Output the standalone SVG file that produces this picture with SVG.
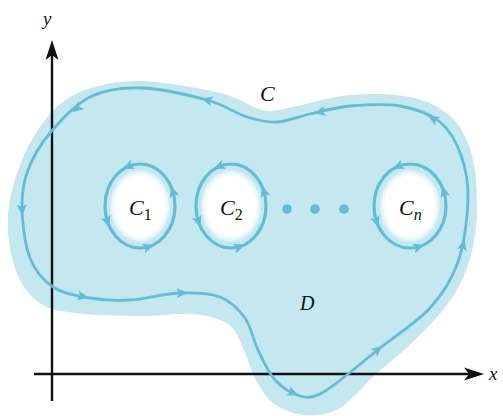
<svg xmlns="http://www.w3.org/2000/svg" xmlns:xlink="http://www.w3.org/1999/xlink" width="503" height="416" viewBox="0 0 503 416">
<style>
.curve{fill:none;stroke:#62bdd6;stroke-width:2.8;stroke-linejoin:round}
.ring{fill:none;stroke:#62bdd6;stroke-width:3.2}
.ah{fill:#62bdd6}
.dot{fill:#62bdd6}
.axis{stroke:#111;stroke-width:2.4;fill:none}
.lbl{font-family:"Liberation Serif","Times New Roman",serif;font-style:italic;font-size:22px;fill:#111}
.sub{font-style:normal;font-size:16px}
.subi{font-style:italic;font-size:16px}
</style>
<defs>
<path id="ah" d="M6,0 L-5.5,-5 L-2.8,0 L-5.5,5 Z"/>
<path id="axh" d="M0,0 L-20,-6.5 L-15,0 L-20,6.5 Z"/>
<radialGradient id="hole" cx="0.5" cy="0.5" r="0.5">
<stop offset="0" stop-color="#ffffff"/>
<stop offset="0.8" stop-color="#ffffff"/>
<stop offset="0.92" stop-color="#e3f4f9"/>
<stop offset="1" stop-color="#c4e7f0"/>
</radialGradient>
</defs>

<g id="region-D">
<path fill="#c4e7f0" d="M8,215 C6.8,233 10,253.5 15,268 C20,282.5 28,294.5 38,302 C48,309.5 58,310.7 75,313 C92,315.3 120.5,315.8 140,316 C159.5,316.2 177.3,312.7 192,314 C206.7,315.3 219.5,318.3 228,324 C236.5,329.7 238.5,339 243,348 C247.5,357 250,368.8 255,378 C260,387.2 264.7,396.8 273,403 C281.3,409.2 293.8,414.2 305,415 C316.2,415.8 328.3,414.7 340,408 C351.7,401.3 362.5,386.3 375,375 C387.5,363.7 402.2,352.8 415,340 C427.8,327.2 442.7,312.2 452,298 C461.3,283.8 466.8,270.5 471,255 C475.2,239.5 477,222.2 477,205 C477,187.8 475.5,166.8 471,152 C466.5,137.2 460.2,125.2 450,116 C439.8,106.8 426.7,100.5 410,97 C393.3,93.5 370.3,93.2 350,95 C329.7,96.8 302.7,105.5 288,108 C273.3,110.5 273.3,112.5 262,110 C250.7,107.5 240.2,97.8 220,93 C199.8,88.2 163.5,81.5 141,81 C118.5,80.5 100.2,84.5 85,90 C69.8,95.5 60.5,102.3 50,114 C39.5,125.7 29,143.2 22,160 C15,176.8 9.2,197 8,215 Z"/>
<ellipse cx="140" cy="206" rx="31" ry="37" fill="url(#hole)"/>
<ellipse cx="231" cy="206" rx="31" ry="37" fill="url(#hole)"/>
<ellipse cx="410" cy="206" rx="31" ry="37" fill="url(#hole)"/>
</g>

<g id="axes">
<line class="axis" x1="52" y1="401" x2="52" y2="50"/>
<use xlink:href="#axh" href="#axh" transform="translate(52,40) rotate(-90)" fill="#111"/>
<line class="axis" x1="34" y1="374" x2="474" y2="374"/>
<use xlink:href="#axh" href="#axh" transform="translate(484,374)" fill="#111"/>
<text class="lbl" x="43" y="25" style="font-size:19px">y</text>
<text class="lbl" x="489" y="380" style="font-size:19px">x</text>
</g>

<g id="connectors">
<g id="curve-C">
<path class="curve" d="M22,208 C22.3,222.7 24.8,244.8 30,258 C35.2,271.2 43,280.3 53,287 C63,293.7 77.2,295.8 90,298 C102.8,300.2 115,300.8 130,300 C145,299.2 165,293.5 180,293 C195,292.5 209.2,292.8 220,297 C230.8,301.2 238.7,309.2 245,318 C251.3,326.8 253,339.7 258,350 C263,360.3 268,372.3 275,380 C282,387.7 292.5,393.7 300,396 C307.5,398.3 312,397.7 320,394 C328,390.3 338,381.7 348,374 C358,366.3 366.3,359 380,348 C393.7,337 417,322.3 430,308 C443,293.7 451.7,280 458,262 C464.3,244 467.5,217.8 468,200 C468.5,182.2 465.7,168 461,155 C456.3,142 450.2,130.2 440,122 C429.8,113.8 415,108.7 400,106 C385,103.3 365,104.7 350,106 C335,107.3 322.2,111.3 310,114 C297.8,116.7 287.5,121.5 277,122 C266.5,122.5 258.7,120.7 247,117 C235.3,113.3 224.7,104.8 207,100 C189.3,95.2 160.5,88.5 141,88 C121.5,87.5 105.2,89.5 90,97 C74.8,104.5 60.3,120.8 50,133 C39.7,145.2 32.7,157.5 28,170 C23.3,182.5 21.7,193.3 22,208 Z"/>
<use class="ah" href="#ah" xlink:href="#ah" transform="translate(77,108.5) rotate(142)"/>
<use class="ah" href="#ah" xlink:href="#ah" transform="translate(22,210) rotate(88)"/>
<use class="ah" href="#ah" xlink:href="#ah" transform="translate(83,296.5) rotate(12)"/>
<use class="ah" href="#ah" xlink:href="#ah" transform="translate(182,293) rotate(0)"/>
<use class="ah" href="#ah" xlink:href="#ah" transform="translate(293,393) rotate(22)"/>
<use class="ah" href="#ah" xlink:href="#ah" transform="translate(378,349.5) rotate(-39)"/>
<use class="ah" href="#ah" xlink:href="#ah" transform="translate(463,245) rotate(-76)"/>
<use class="ah" href="#ah" xlink:href="#ah" transform="translate(433,118.5) rotate(-150)"/>
<use class="ah" href="#ah" xlink:href="#ah" transform="translate(320,112) rotate(168)"/>
<use class="ah" href="#ah" xlink:href="#ah" transform="translate(207,100) rotate(-165)"/>
</g>
<g id="curve-C1" transform="translate(140,206)">
<ellipse class="ring" cx="0" cy="0" rx="35" ry="42"/>
<use class="ah" href="#ah" xlink:href="#ah" transform="translate(-12,-39.5) rotate(156)"/>
<use class="ah" href="#ah" xlink:href="#ah" transform="translate(32.9,-14.4) rotate(-107)"/>
<use class="ah" href="#ah" xlink:href="#ah" transform="translate(-32.5,15.7) rotate(71)"/>
<use class="ah" href="#ah" xlink:href="#ah" transform="translate(8.5,40.8) rotate(-17)"/>
</g>
<g id="curve-C2" transform="translate(231,206)">
<ellipse class="ring" cx="0" cy="0" rx="35" ry="42"/>
<use class="ah" href="#ah" xlink:href="#ah" transform="translate(-12,-39.5) rotate(156)"/>
<use class="ah" href="#ah" xlink:href="#ah" transform="translate(32.9,-14.4) rotate(-107)"/>
<use class="ah" href="#ah" xlink:href="#ah" transform="translate(-32.5,15.7) rotate(71)"/>
<use class="ah" href="#ah" xlink:href="#ah" transform="translate(8.5,40.8) rotate(-17)"/>
</g>
<g id="curve-Cn" transform="translate(410,206)">
<ellipse class="ring" cx="0" cy="0" rx="36" ry="42"/>
<use class="ah" href="#ah" xlink:href="#ah" transform="translate(-12,-39.5) rotate(156)"/>
<use class="ah" href="#ah" xlink:href="#ah" transform="translate(33.8,-14.4) rotate(-107)"/>
<use class="ah" href="#ah" xlink:href="#ah" transform="translate(-33.4,15.7) rotate(71)"/>
<use class="ah" href="#ah" xlink:href="#ah" transform="translate(8.7,40.8) rotate(-17)"/>
</g>
</g>

<g id="ellipsis">
<circle class="dot" cx="287" cy="209" r="4.8"/>
<circle class="dot" cx="315" cy="209" r="4.8"/>
<circle class="dot" cx="344" cy="209" r="4.8"/>
</g>

<g id="labels">
<text class="lbl" x="260" y="101">C</text>
<text class="lbl" x="129" y="215">C<tspan class="sub" dy="5">1</tspan></text>
<text class="lbl" x="220" y="215">C<tspan class="sub" dy="5">2</tspan></text>
<text class="lbl" x="399" y="215">C<tspan class="subi" dy="5">n</tspan></text>
<text class="lbl" x="300" y="310" style="font-size:20px">D</text>
</g>
</svg>
